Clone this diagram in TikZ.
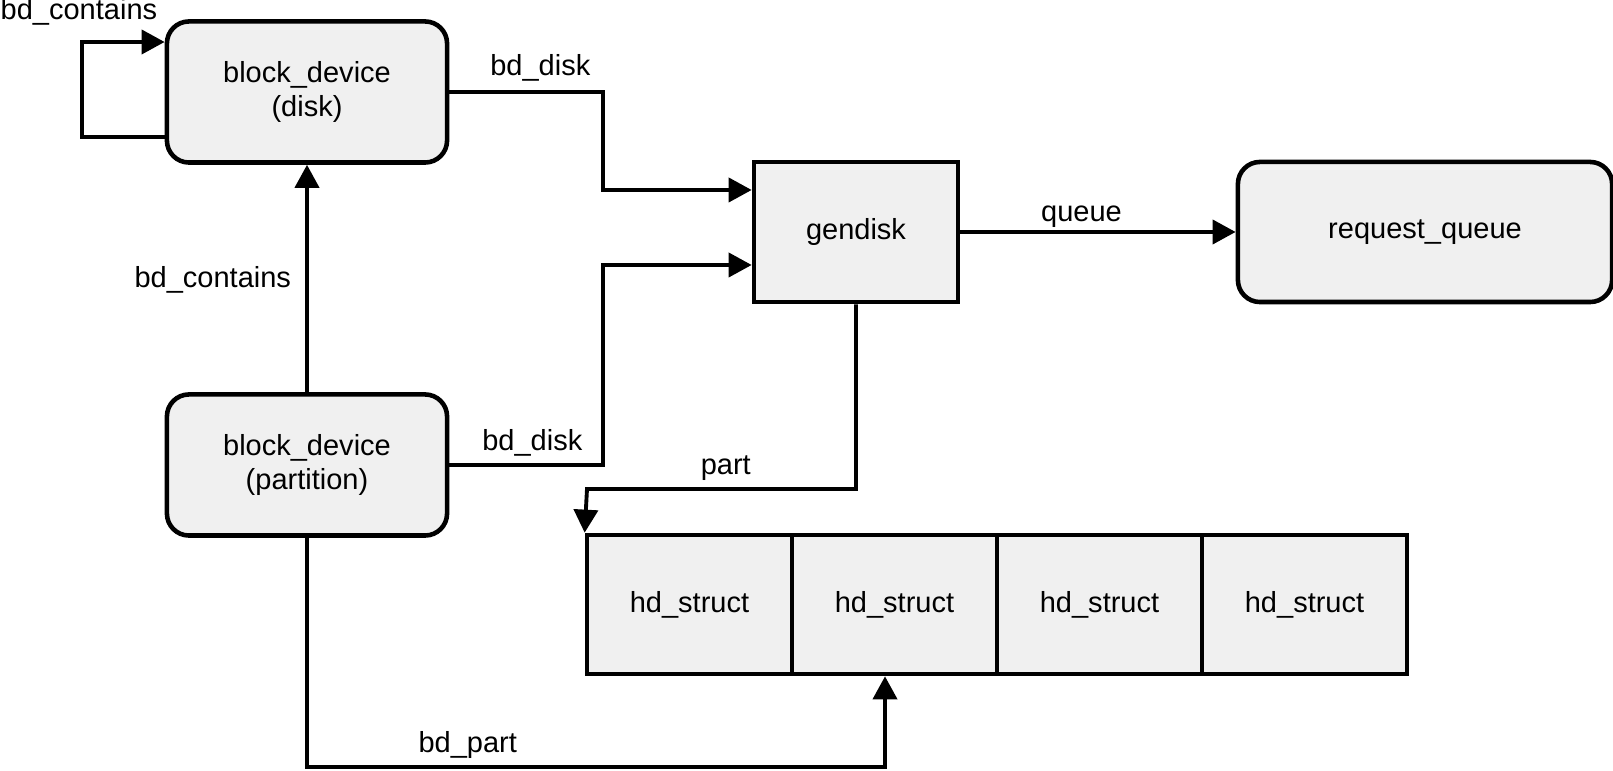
\documentclass[tikz,border=0pt]{standalone}
\usepackage{fontspec}
\setmainfont{Liberation Sans}
\usetikzlibrary{arrows.meta,calc,positioning}
\definecolor{boxgray}{HTML}{F0F0F0}

\begin{document}
\begin{tikzpicture}[x=0.01cm,y=-0.01cm,
        font=\fontsize{8.25}{9.7}\selectfont,
        blk/.style={draw,line width=1.3pt,fill=boxgray,rounded corners=0.22cm,
            minimum width=2.8cm,minimum height=1.41cm,align=center,inner sep=0pt},
        cell/.style={draw,line width=1.3pt,fill=boxgray,
            minimum width=2.05cm,minimum height=1.39cm,inner sep=0pt},
        lnk/.style={-{Triangle[length=0.23cm,width=0.24cm]},line width=1.1pt},
        tag/.style={inner sep=0pt}]
    \useasboundingbox (0,0) rectangle (1613,771);
    \draw (307,92) node[blk] (disk) {block\_device\\(disk)};
    \draw (307,465) node[blk] (partn) {block\_device\\(partition)};
    \draw (856,232) node[blk,rounded corners=0pt,minimum width=2.04cm,minimum height=1.4cm] (gendisk) {gendisk};
    \draw (1425,232) node[blk,minimum width=3.74cm,minimum height=1.4cm] (rq) {request\_queue};
    \foreach \i in {0,...,3}
        \draw (689.5+205*\i,604.5) node[cell] (hd\i) {hd\_struct};
    \coordinate (lpA) at (82,137);
    \coordinate (lpB) at (82,42);
    \coordinate (dk1) at (603,190);
    \coordinate (dk2) at (603,265);
    \coordinate (pt1) at (587,489);
    \coordinate (bp1) at (885,767);
    \draw[lnk] (disk.west |- lpA) -- (lpA) -- (lpB) -- (disk.west |- lpB);
    \node[tag,anchor=base west] (lblself) at (0,20) {bd\_contains};
    \draw[lnk] (disk.east) -| node[tag,pos=0.296,anchor=base,yshift=4.8pt] {bd\_disk} (dk1) -- (dk1 -| gendisk.west);
    \draw[lnk] (partn.east) -| node[tag,pos=0.27,anchor=base,yshift=4.2pt] {bd\_disk} (dk2) -- (dk2 -| gendisk.west);
    \draw[lnk] (gendisk) -- node[tag,pos=0.44,anchor=base,yshift=3.1pt] {queue} (rq);
    \draw[lnk] (partn) -- node[tag,pos=0.46,anchor=base east,xshift=-4pt] {bd\_contains} (disk);
    \draw[lnk] (gendisk.south) |- node[tag,pos=0.742,anchor=base,yshift=4pt] {part} (pt1) -- (hd0.north west);
    \draw[lnk] (partn.south) |- node[tag,pos=0.639,anchor=base,yshift=4.2pt] {bd\_part} (bp1) -- (bp1 |- hd1.south);
\end{tikzpicture}
\end{document}
